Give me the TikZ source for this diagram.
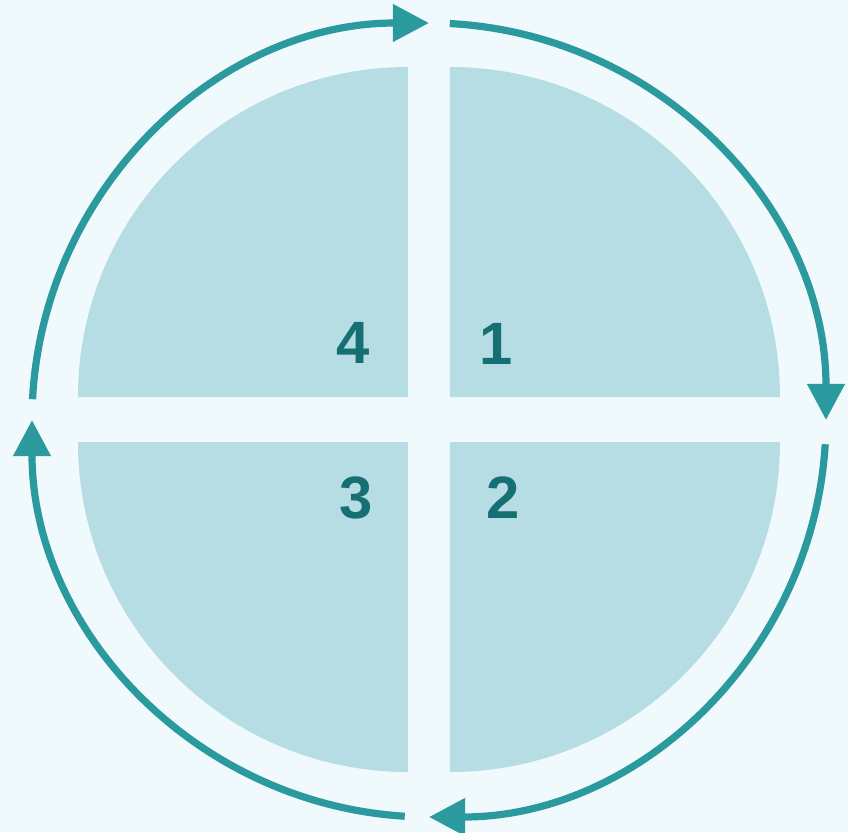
\documentclass[tikz,border=0pt]{standalone}
\usepackage{fontspec}
\setmainfont{Liberation Sans}
\usetikzlibrary{arrows.meta}
\definecolor{cyclebg}{HTML}{F0F9FB}
\definecolor{cyclequad}{HTML}{B5DDE3}
\definecolor{cycleteal}{HTML}{2A9A9E}
\definecolor{cyclenum}{HTML}{167073}
\tikzset{
  quad fill/.style={fill=cyclequad},
  cycle arrow/.style={-{Triangle[length=3.6mm,width=3.6mm]},line width=0.72mm,
    draw=cycleteal},
  phase label/.style={font=\fontsize{17}{20}\selectfont\bfseries,text=cyclenum,
    inner sep=0pt},
}

\begin{document}
\begin{tikzpicture}[x=0.01cm,y=0.01cm]
  % Page and background
  \fill[cyclebg] (-429,420) rectangle (419,-412);
  \useasboundingbox (-429,420) rectangle (419,-412);

  % The four quarters
  \fill[quad fill] (21,23) -- ++(330,0) arc[start angle=0,end angle=90,radius=330] -- cycle;
  \fill[quad fill] (-21,23) -- ++(-330,0) arc[start angle=180,end angle=90,radius=330] -- cycle;
  \fill[quad fill] (-21,-22) -- ++(-330,0) arc[start angle=180,end angle=270,radius=330] -- cycle;
  \fill[quad fill] (21,-22) -- ++(330,0) arc[start angle=0,end angle=-90,radius=330] -- cycle;

  % Phase numbers
  \node[phase label] (p1) at (67,76) {1};
  \node[phase label] (p2) at (74,-78) {2};
  \node[phase label] (p3) at (-73,-78) {3};
  \node[phase label] (p4) at (-76,77) {4};

  % Clockwise arrows round the circle
  \draw[cycle arrow] (177:397) arc[start angle=177,end angle=90,radius=397];
  \draw[cycle arrow] (87:397) arc[start angle=87,end angle=0,radius=397];
  \draw[cycle arrow] (-3.5:397) arc[start angle=-3.5,end angle=-90,radius=397];
  \draw[cycle arrow] (-93.5:397) arc[start angle=-93.5,end angle=-180,radius=397];
\end{tikzpicture}
\end{document}
